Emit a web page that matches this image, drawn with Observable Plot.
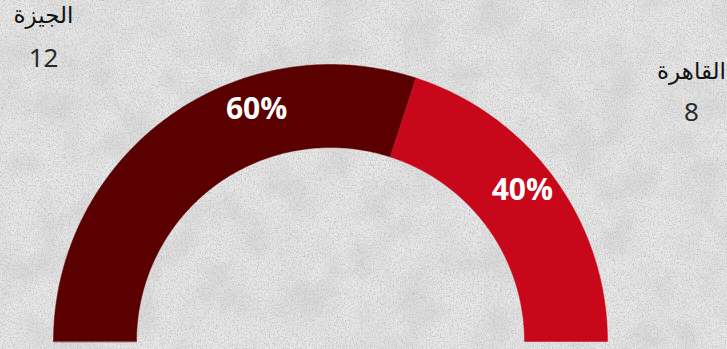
<!DOCTYPE html>
<html><head><meta charset="utf-8">
<script src="https://cdn.jsdelivr.net/npm/d3@7"></script>
<script src="https://cdn.jsdelivr.net/npm/@observablehq/plot@0.6"></script>
<style>
html,body{margin:0;padding:0;}
body{width:727px;height:349px;overflow:hidden;background:#dcdcdc;}
#chart{position:relative;width:727px;height:349px;}
#bg{position:absolute;left:0;top:0;z-index:0;}
#plotwrap{position:absolute;left:0;top:0;z-index:1;width:727px;height:349px;}
</style></head><body>
<div id="chart">
<svg id="bg" width="727" height="349">
  <filter id="n1" x="0" y="0" width="100%" height="100%">
    <feTurbulence type="fractalNoise" baseFrequency="0.75" numOctaves="3" seed="4"/>
    <feColorMatrix type="matrix" values="0 0 0 0 0.5  0 0 0 0 0.5  0 0 0 0 0.5  2.4 0 0 0 -1.05"/>
  </filter>
  <filter id="n2" x="0" y="0" width="100%" height="100%">
    <feTurbulence type="fractalNoise" baseFrequency="0.025" numOctaves="4" seed="9"/>
    <feColorMatrix type="matrix" values="0 0 0 0 0.62  0 0 0 0 0.62  0 0 0 0 0.62  1.3 0 0 0 -0.52"/>
  </filter>
  <rect width="727" height="349" fill="#e8e8e8"/>
  <rect width="727" height="349" filter="url(#n2)"/>
  <rect width="727" height="349" filter="url(#n1)"/>
</svg>
<div id="plotwrap"></div>
</div>
<script>
const categories = ["الجيزة", "القاهرة"];
const values = [12, 8];
const colors = ["#5a0000", "#c8081a"];

const W = 727, H = 349;
const cx = 330, cy = 341;          // centre of the half donut (px)
const rOuter = 277, rInner = 194;   // radii (px)
const total = d3.sum(values);

// cumulative fractions from the left end of the half ring
let acc = 0;
const slices = values.map((v, i) => {
  const f0 = acc / total; acc += v; const f1 = acc / total;
  return {cat: categories[i], value: v, f0, f1, color: colors[i], pct: Math.round(v / total * 100) + "%"};
});

function ringPoints(s) {
  const n = 120, pts = [];
  for (let k = 0; k <= n; k++) {
    const f = s.f0 + (s.f1 - s.f0) * k / n, t = Math.PI - f * Math.PI;
    pts.push({x: rOuter * Math.cos(t), y: rOuter * Math.sin(t)});
  }
  for (let k = n; k >= 0; k--) {
    const f = s.f0 + (s.f1 - s.f0) * k / n, t = Math.PI - f * Math.PI;
    pts.push({x: rInner * Math.cos(t), y: rInner * Math.sin(t)});
  }
  return pts;
}

// label placement along each slice (fraction of the slice span) and radius
const labelAt = [0.67, 0.47], rLabel = 244;
const pctLabels = slices.map((s, i) => {
  const f = s.f0 + (s.f1 - s.f0) * labelAt[i], t = Math.PI - f * Math.PI;
  return {x: rLabel * Math.cos(t), y: rLabel * Math.sin(t), text: s.pct};
});

// outer category labels (pixel anchors converted to chart units)
const catAnchors = [[43, 15, 58], [691, 71, 112]];
const catLabels = slices.map((s, i) => ({x: catAnchors[i][0] - cx, yName: cy - catAnchors[i][1], yVal: cy - catAnchors[i][2], name: s.cat, val: String(s.value)}));

const chart = Plot.plot({
  width: W, height: H,
  margin: 0,
  style: {background: "transparent", overflow: "visible"},
  x: {domain: [-cx, W - cx], range: [0, W], axis: null},
  y: {domain: [cy - H, cy], range: [H, 0], axis: null},
  marks: [
    ...slices.map(s => Plot.line(ringPoints(s), {x: "x", y: "y", fill: s.color, stroke: s.color, strokeWidth: 0.5, curve: "linear-closed"})),
    Plot.text(pctLabels, {x: "x", y: "y", text: "text", fill: "white", fontSize: 30, fontWeight: "bold", fontFamily: "Open Sans, Noto Sans, sans-serif"}),
    Plot.text(catLabels, {x: "x", y: "yName", text: "name", fill: "#111", fontSize: 23, fontFamily: "DejaVu Sans, Noto Sans, sans-serif"}),
    Plot.text(catLabels, {x: "x", y: "yVal", text: "val", fill: "#2a2a2a", fontSize: 26, fontFamily: "Noto Sans, DejaVu Sans, sans-serif"})
  ]
});
document.getElementById("plotwrap").appendChild(chart);
</script>
</body></html>
